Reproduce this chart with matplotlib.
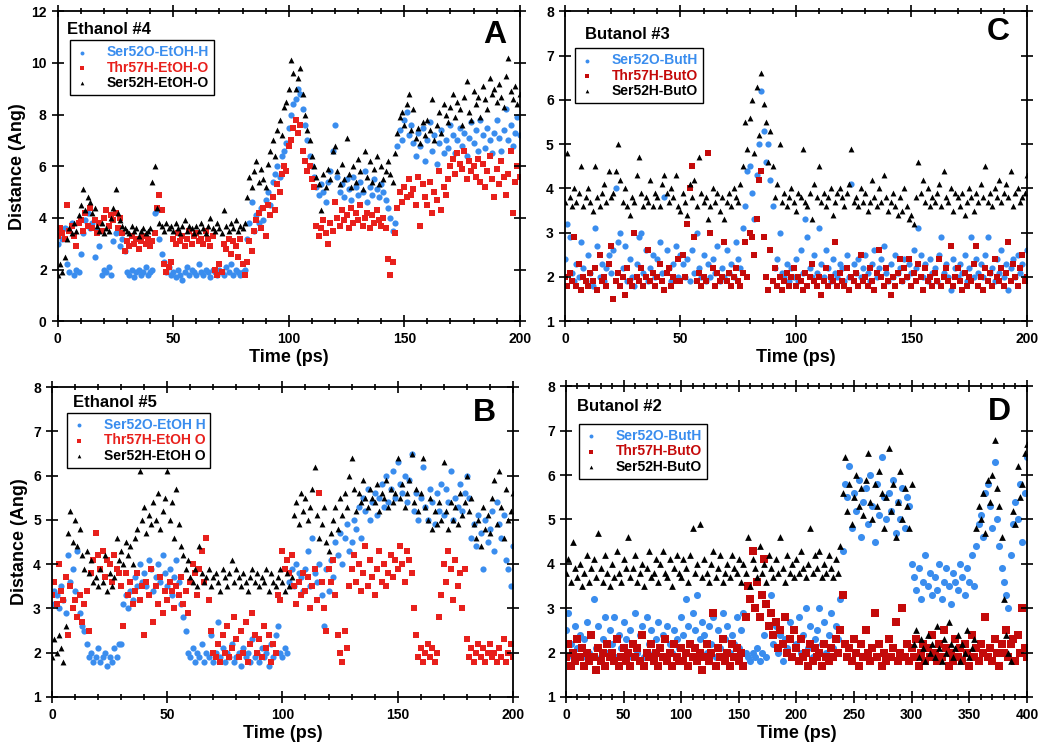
import matplotlib
matplotlib.use("Agg")
import matplotlib.pyplot as plt
import numpy as np

plt.rcParams['font.family'] = ['Liberation Sans', 'DejaVu Sans']
plt.rcParams['font.weight'] = 'bold'

# Panel A: Ethanol #4, one value per ps (0..200)
a_blue = [3.0, 3.4, 3.2, 3.6, 2.2, 1.9, 3.8, 1.8, 2.0, 1.9,
          2.6, 3.4, 3.9, 4.2, 3.6, 3.8, 2.5, 3.5, 2.9, 1.8,
          2.0, 1.9, 2.1, 1.8, 3.1, 3.4, 3.5, 2.9, 3.2, 2.7,
          1.9, 1.8, 2.0, 1.7, 1.9, 2.0, 1.8, 1.9, 2.1, 1.8,
          1.9, 2.0, 4.2, 4.3, 3.2, 2.6, 2.3, 1.9, 2.1, 1.8,
          1.9, 1.7, 2.0, 1.8, 1.6, 1.9, 2.1, 1.8, 2.0, 1.9,
          1.8, 2.2, 1.9, 1.8, 2.0, 1.9, 1.7, 2.0, 1.9, 1.8,
          2.0, 1.9, 1.8, 2.1, 1.9, 2.2, 1.8, 2.0, 1.9, 1.8,
          1.9, 2.0, 3.2, 3.8, 4.6, 3.5, 4.1, 3.8, 4.4, 3.9,
          4.7, 5.0, 4.5, 5.4, 5.7, 6.0, 5.6, 6.4, 6.6, 6.9,
          7.5, 8.0, 8.4, 8.6, 9.0, 8.8, 8.2, 7.6, 7.0, 6.4,
          6.0, 5.6, 5.2, 4.9, 5.3, 5.0, 4.6, 5.4, 5.8, 6.6,
          7.6, 5.6, 5.0, 5.3, 4.8, 5.5, 5.1, 4.7, 5.6, 5.2,
          4.9, 5.4, 5.0, 5.8, 4.6, 5.2, 4.9, 5.5, 5.1, 4.8,
          5.3, 5.0, 4.7, 4.4, 4.0, 3.5, 3.8, 6.8, 7.4, 7.0,
          7.8, 8.1, 7.2, 7.6, 6.9, 6.4, 7.3, 6.8, 7.5, 6.2,
          7.0, 7.7, 6.6, 7.2, 6.1, 6.9, 7.4, 6.5, 7.0, 6.7,
          7.6, 7.2, 6.5, 7.0, 7.5, 6.8, 7.3, 6.4, 7.1, 7.7,
          6.9, 7.4, 6.6, 7.8, 7.2, 6.7, 7.5, 7.0, 6.5, 7.3,
          7.8, 7.1, 6.6, 7.4, 8.2, 7.0, 7.6, 6.8, 7.3, 7.9,
          7.2]
a_red = [3.3, 3.6, 3.4, 3.2, 4.5, 3.5, 3.7, 3.3, 2.9, 3.8,
         3.9, 3.5, 4.2, 3.7, 4.4, 3.6, 3.9, 3.4, 3.8, 3.5,
         4.0, 4.3, 3.7, 4.1, 3.9, 4.2, 3.6, 4.0, 3.4, 2.7,
         3.1, 2.9, 3.3, 3.0, 3.2, 2.8, 3.1, 3.3, 3.0, 3.2,
         2.9, 3.1, 3.4, 4.4, 4.9, 4.3, 2.2, 1.9, 2.1, 2.3,
         3.2, 3.0, 3.4, 3.1, 3.3, 2.9, 3.2, 3.5, 3.0, 3.3,
         3.4, 3.1, 3.2, 3.0, 3.5, 3.2, 2.9, 3.3, 2.0, 1.8,
         2.2, 1.9, 3.0, 2.8, 3.2, 2.6, 3.1, 2.9, 2.5, 3.2,
         2.2, 1.8, 2.3, 3.1, 2.7, 3.5, 3.9, 4.2, 3.6, 4.4,
         3.3, 4.5, 4.1, 4.8, 4.3, 5.3, 5.0, 5.7, 6.0, 5.8,
         6.8, 7.0, 7.5, 7.8, 7.3, 7.6, 6.6, 6.2, 5.8, 6.0,
         5.5, 5.2, 3.7, 3.3, 3.6, 3.9, 3.4, 3.0, 3.8, 3.5,
         4.6, 4.0, 3.7, 4.3, 3.9, 4.1, 3.6, 4.4, 3.8, 4.2,
         3.9, 4.5, 3.7, 4.0, 4.2, 3.6, 4.1, 3.8, 4.3, 3.9,
         3.7, 4.0, 3.6, 2.4, 1.8, 2.3, 3.4, 4.4, 5.0, 4.6,
         5.2, 4.8, 5.5, 4.9, 5.1, 4.5, 5.6, 3.7, 5.3, 4.8,
         4.5, 5.4, 4.2, 5.0, 4.7, 5.8, 4.3, 5.2, 4.9, 5.5,
         6.0, 6.3, 5.7, 6.5, 6.1, 5.9, 6.6, 5.5, 6.2, 5.8,
         6.0, 5.6, 6.3, 5.4, 6.1, 5.2, 5.8, 6.4, 5.5, 4.8,
         5.9, 5.3, 6.2, 5.6, 4.9, 5.7, 6.6, 4.2, 5.4, 6.0,
         5.6]
a_black = [1.8, 2.2, 1.9, 2.5, 3.2, 3.6, 3.4, 3.8, 3.5, 4.1,
           4.5, 5.1, 4.3, 4.8, 4.6, 4.2, 4.4, 3.7, 3.5, 3.8,
           3.4, 3.6, 3.5, 4.0, 4.4, 5.1, 4.2, 3.9, 3.7, 3.6,
           3.5, 3.4, 3.7, 3.5, 3.6, 3.3, 3.5, 3.6, 3.4, 3.5,
           3.6, 5.4, 6.0, 4.4, 3.8, 3.7, 3.5, 3.8, 3.6, 3.7,
           3.5, 3.8, 3.6, 3.4, 3.7, 3.9, 3.5, 3.7, 3.6, 3.4,
           3.7, 3.5, 3.8, 3.6, 3.4, 3.7, 4.0, 3.6, 3.5, 3.8,
           3.6, 3.4, 4.3, 3.7, 3.5, 3.8, 3.6, 3.9, 3.5, 3.7,
           3.6, 3.8, 4.8, 5.6, 5.2, 5.8, 6.2, 5.4, 5.9, 5.5,
           5.2, 6.1, 6.6, 7.0, 6.4, 7.4, 7.8, 7.2, 8.3, 8.5,
           9.0, 10.1, 9.6, 9.0, 9.4, 9.8, 8.8, 8.0, 7.4, 7.0,
           6.4, 6.0, 5.6, 5.3, 4.3, 5.7, 5.2, 5.9, 5.5, 6.6,
           6.8, 5.8, 5.3, 6.1, 5.5, 7.1, 5.7, 5.2, 6.0, 5.4,
           6.3, 5.8, 5.1, 6.6, 5.6, 6.2, 5.4, 5.9, 6.4, 5.3,
           6.0, 5.5, 5.8, 6.2, 5.7, 5.4, 6.5, 7.3, 7.9, 8.1,
           7.6, 8.4, 8.8, 7.4, 8.2, 7.1, 7.5, 6.9, 7.7, 7.2,
           7.8, 7.4, 8.6, 7.0, 7.6, 8.1, 7.3, 8.4, 8.0, 7.7,
           8.3, 8.8, 7.9, 8.5, 8.2, 7.6, 8.7, 9.3, 8.1, 7.8,
           8.9, 8.4, 8.7, 7.9, 9.1, 8.6, 8.2, 9.4, 8.8, 9.0,
           8.5, 9.2, 8.7, 8.3, 9.5, 10.2, 8.9, 8.6, 9.1, 8.4,
           8.8]

# Panel C: Butanol #3, one value per ps (0..200)
c_blue = [2.4, 3.2, 2.9, 2.1, 1.9, 2.3, 2.0, 2.8, 2.2, 1.9,
          2.5, 2.1, 1.8, 3.1, 2.7, 2.0, 2.3, 1.9, 2.2, 2.5,
          2.1, 2.6, 4.0, 2.8, 3.0, 2.2, 2.7, 1.9, 2.4, 2.0,
          1.8, 2.3, 2.9, 3.0, 2.1, 2.6, 1.9, 2.2, 2.5, 2.0,
          2.4, 2.8, 2.1, 3.8, 2.6, 2.2, 1.9, 2.3, 2.7, 2.0,
          2.5, 2.3, 2.0, 2.4, 1.9, 2.6, 2.1, 3.0, 2.2, 2.0,
          2.5, 1.9, 2.3, 2.0, 2.4, 2.1, 2.7, 1.9, 2.2, 2.0,
          2.6, 2.1, 2.3, 2.0, 2.8, 2.4, 2.2, 3.1, 3.6, 4.4,
          4.5, 3.9, 3.3, 4.3, 5.0, 6.2, 5.3, 4.6, 5.0, 4.2,
          3.6, 2.2, 2.4, 3.0, 2.1, 2.0, 2.3, 1.9, 2.2, 2.0,
          2.4, 1.9, 2.6, 2.1, 3.3, 2.9, 2.2, 2.0, 2.5, 2.1,
          3.1, 2.3, 2.0, 2.6, 2.2, 1.9, 2.4, 2.1, 2.0, 2.3,
          2.2, 1.9, 2.5, 2.0, 4.1, 2.3, 2.1, 2.4, 2.0, 2.2,
          2.5, 2.1, 1.9, 2.3, 2.6, 2.0, 2.2, 2.4, 2.7, 2.1,
          1.9, 2.3, 2.0, 2.5, 2.1, 2.2, 1.9, 2.4, 2.0, 2.3,
          2.1, 2.6, 2.2, 3.1, 2.5, 2.0, 2.3, 1.9, 2.4, 2.1,
          2.2, 1.9, 2.5, 2.9, 2.1, 2.3, 2.0, 1.7, 2.4, 2.2,
          2.0, 2.3, 2.1, 2.5, 1.9, 2.2, 2.9, 2.0, 2.4, 2.1,
          2.3, 2.0, 2.5, 2.9, 2.1, 2.2, 1.9, 2.4, 2.1, 2.6,
          2.0, 2.3, 1.7, 2.2, 2.4, 2.0, 2.5, 2.1, 2.3, 2.0,
          2.6]
c_red = [2.0, 1.8, 2.1, 1.9, 2.9, 1.8, 2.3, 1.7, 2.0, 1.9,
         1.8, 2.1, 1.9, 2.2, 1.7, 2.5, 1.9, 2.0, 1.8, 2.3,
         2.7, 1.5, 1.9, 2.1, 1.8, 2.0, 1.6, 2.2, 1.9, 1.8,
         3.0, 2.0, 1.9, 2.2, 1.8, 2.0, 2.6, 1.9, 2.1, 1.8,
         2.0, 2.3, 1.9, 1.7, 2.1, 2.2, 1.8, 2.0, 1.9, 2.4,
         1.9, 2.5, 2.0, 3.2, 4.0, 4.5, 2.9, 1.9, 2.1, 1.8,
         2.0, 1.9, 4.8, 3.0, 2.2, 1.8, 2.1, 1.9, 2.0, 2.8,
         1.9, 2.1, 1.8, 2.0, 2.2, 1.9, 1.8, 2.1, 2.8, 2.0,
         3.0, 2.9, 2.5, 3.3, 4.2, 4.4, 2.9, 2.0, 1.7, 2.6,
         1.9, 2.2, 1.8, 2.0, 1.7, 1.9, 2.1, 1.8, 2.0, 2.2,
         1.8, 2.0, 1.9, 1.7, 2.1, 1.8, 2.0, 2.3, 1.9, 1.8,
         2.0, 1.6, 1.9, 2.2, 1.8, 2.0, 1.9, 2.8, 1.8, 2.1,
         1.9, 1.8, 2.2, 1.7, 2.0, 1.9, 2.1, 1.8, 2.5, 1.9,
         2.0, 1.8, 2.2, 1.9, 1.7, 2.1, 2.6, 2.0, 1.8, 2.2,
         1.9, 1.6, 2.0, 1.8, 2.1, 2.4, 1.9, 2.2, 2.0, 2.4,
         1.8, 2.1, 1.9, 2.3, 2.0, 1.7, 2.2, 1.9, 2.0, 1.8,
         2.1, 1.9, 2.4, 1.8, 2.0, 2.2, 1.9, 2.7, 1.8, 2.0,
         2.2, 1.9, 1.7, 2.1, 1.8, 2.0, 1.9, 2.3, 2.7, 1.8,
         2.0, 1.7, 2.2, 1.9, 2.1, 1.8, 2.4, 2.0, 1.9, 2.2,
         1.8, 2.1, 2.8, 1.9, 2.3, 2.0, 1.8, 2.2, 2.5, 1.9,
         2.0]
c_black = [3.7, 4.8, 3.8, 3.6, 4.0, 3.7, 3.9, 4.5, 3.6, 3.8,
           4.0, 3.7, 3.5, 4.5, 3.8, 3.6, 3.9, 4.1, 3.7, 4.4,
           3.8, 3.9, 4.4, 5.0, 4.2, 3.7, 4.0, 3.6, 3.4, 3.8,
           3.7, 4.3, 4.7, 3.9, 3.6, 3.8, 3.7, 4.2, 3.6, 3.9,
           3.8, 3.6, 4.1, 4.3, 3.9, 3.7, 4.0, 3.8, 4.3, 3.6,
           3.5, 3.9, 3.7, 3.4, 4.1, 3.8, 4.2, 3.6, 4.7, 3.9,
           3.7, 3.8, 3.3, 3.6, 4.0, 3.7, 3.9, 3.5, 3.8, 3.3,
           3.7, 3.9, 3.6, 4.0, 3.8, 3.7, 4.1, 4.5, 5.5, 4.9,
           5.6, 6.0, 4.8, 6.3, 5.2, 6.6, 5.9, 5.5, 4.6, 5.3,
           4.5, 3.8, 4.1, 5.0, 3.7, 3.9, 3.6, 3.8, 4.0, 3.7,
           3.5, 3.9, 3.8, 4.9, 3.7, 3.6, 3.9, 3.3, 4.1, 3.8,
           4.5, 3.7, 3.9, 3.6, 3.8, 4.0, 3.4, 3.7, 3.9, 4.0,
           3.8, 3.6, 3.9, 4.1, 4.9, 3.7, 3.8, 3.6, 4.0, 3.7,
           3.9, 3.5, 3.7, 4.2, 3.8, 3.6, 4.0, 3.7, 4.3, 3.8,
           3.5, 3.7, 3.9, 3.6, 3.4, 3.8, 3.5, 4.0, 3.6, 3.3,
           3.4, 3.2, 3.8, 4.6, 3.9, 4.2, 3.7, 4.0, 3.6, 3.8,
           3.7, 3.9, 4.1, 3.6, 4.4, 3.8, 3.7, 4.0, 3.5, 3.9,
           3.8, 3.6, 3.9, 3.4, 3.7, 4.0, 3.8, 3.5, 3.9, 3.7,
           4.1, 3.8, 4.5, 3.7, 3.9, 3.6, 4.0, 3.8, 4.2, 3.7,
           3.9, 4.1, 3.8, 4.4, 3.6, 3.9, 4.0, 3.7, 3.8, 3.9,
           4.3]

# Panel B: Ethanol #5, one value per ps (0..200)
b_blue = [3.1, 3.4, 3.3, 3.0, 3.5, 3.2, 2.9, 4.2, 3.6, 3.9,
          3.4, 4.3, 2.9, 2.6, 2.5, 2.2, 1.9, 2.0, 1.8, 1.9,
          2.1, 1.8, 1.9, 2.0, 1.7, 1.9, 1.8, 2.1, 1.9, 2.2,
          2.2, 3.1, 3.3, 3.0, 3.4, 3.2, 3.7, 3.5, 4.0, 3.6,
          3.8, 3.5, 4.1, 3.9, 3.4, 3.7, 4.0, 3.6, 4.2, 3.8,
          3.5, 3.9, 3.3, 3.7, 4.1, 3.6, 3.1, 2.8, 2.5, 2.0,
          1.9, 2.1, 1.8, 2.0, 1.9, 2.2, 1.8, 2.0, 1.9, 2.4,
          1.8, 2.0, 2.7, 1.9, 2.1, 1.8, 2.0, 1.9, 2.2, 1.8,
          1.9, 2.0, 1.7, 2.1, 1.9, 2.0, 1.8, 2.3, 1.9, 2.0,
          1.8, 2.1, 1.9, 2.0, 1.7, 2.2, 1.9, 2.4, 2.6, 2.0,
          1.9, 2.1, 2.0, 3.6, 3.9, 3.5, 4.0, 3.8, 3.7, 3.4,
          3.9, 4.3, 3.5, 4.6, 3.8, 3.6, 4.0, 3.3, 2.6, 3.9,
          3.4, 4.1, 3.7, 4.5, 4.2, 4.7, 4.0, 4.6, 4.9, 4.3,
          4.5, 5.0, 4.8, 5.3, 4.6, 5.5, 5.2, 5.7, 5.0, 5.4,
          5.6, 5.1, 5.5, 5.8, 5.3, 6.0, 5.4, 5.7, 6.1, 5.5,
          6.3, 5.8, 5.6, 6.0, 5.4, 5.9, 6.5, 5.2, 5.6, 5.0,
          5.5, 6.2, 5.3, 5.0, 5.7, 5.4, 4.9, 5.6, 5.2, 5.8,
          5.1, 5.7, 5.4, 6.1, 5.0, 5.5, 5.3, 5.8, 5.2, 5.6,
          6.0, 5.5, 4.6, 4.9, 4.4, 5.1, 4.7, 3.9, 5.0, 4.5,
          4.8, 5.2, 4.3, 5.4, 4.9, 4.6, 5.1, 4.1, 3.9, 3.5,
          4.4]
b_red = [3.3, 3.6, 3.1, 4.0, 3.4, 3.2, 3.7, 2.4, 3.5, 3.0,
         3.2, 2.8, 3.3, 2.7, 3.1, 3.4, 2.5, 3.8, 4.1, 4.7,
         4.2, 3.9, 4.3, 3.7, 4.1, 4.0, 3.6, 4.2, 3.9, 3.8,
         3.5, 2.6, 3.8, 3.3, 3.6, 3.1, 3.4, 3.8, 3.2, 3.5,
         2.4, 3.6, 3.3, 3.9, 2.7, 3.5, 3.1, 3.7, 2.9, 3.4,
         3.2, 3.6, 3.4, 3.0, 3.5, 3.3, 3.7, 3.1, 3.4, 2.9,
         3.6, 4.0, 3.8, 3.3, 3.9, 4.3, 3.6, 4.6, 3.2, 2.5,
         2.0, 1.9, 2.2, 1.8, 2.4, 2.0, 2.6, 1.9, 2.1, 2.8,
         2.3, 1.9, 2.5, 2.0, 2.7, 1.8, 2.2, 2.9, 2.4, 2.0,
         2.3, 1.9, 2.6, 2.1, 2.4, 1.8, 2.2, 2.0, 3.3, 3.2,
         4.3, 3.9, 4.1, 3.8, 4.2, 3.5, 3.1, 3.6, 3.3, 3.8,
         3.4, 3.7, 3.0, 3.5, 3.9, 3.2, 5.6, 3.6, 3.0, 2.5,
         3.9, 3.6, 4.1, 3.3, 2.4, 2.0, 1.8, 2.5, 2.1, 3.5,
         3.9, 4.2, 3.6, 4.0, 3.4, 3.8, 4.4, 3.5, 4.1, 3.7,
         3.3, 3.9, 4.3, 3.6, 4.0, 3.5, 3.8, 4.2, 3.7, 4.1,
         3.9, 4.4, 4.0, 3.6, 4.3, 4.1, 3.8, 3.0, 2.4, 1.9,
         2.1, 1.8, 2.0, 2.2, 1.9, 2.1, 1.8, 2.0, 2.8, 3.3,
         4.0, 3.6, 4.3, 3.9, 3.2, 4.1, 3.5, 3.8, 3.0, 3.9,
         2.3, 1.9, 2.1, 1.8, 2.0, 2.2, 1.9, 2.1, 1.8, 2.0,
         2.2, 1.9, 2.0, 1.8, 2.1, 1.9, 2.3, 1.8, 2.0, 2.2,
         1.9]
b_black = [1.9, 2.3, 2.0, 2.4, 2.1, 1.8, 2.6, 4.7, 5.2, 4.5,
           5.0, 4.4, 4.8, 4.2, 3.9, 4.3, 3.8, 4.1, 3.6, 3.7,
           3.5, 3.9, 3.6, 4.2, 3.4, 3.8, 3.5, 3.7, 4.6, 4.1,
           4.3, 4.0, 4.5, 4.2, 4.4, 4.0, 4.6, 4.8, 6.1, 5.0,
           5.3, 4.7, 5.1, 4.9, 5.4, 5.0, 5.6, 4.8, 5.2, 5.5,
           6.1, 5.0, 5.4, 4.6, 5.7, 4.9, 4.4, 4.2, 3.9, 4.1,
           3.7, 3.6, 3.9, 3.5, 4.4, 3.8, 3.6, 3.7, 3.9, 3.5,
           3.7, 3.8, 3.6, 3.4, 3.9, 3.7, 3.5, 3.8, 4.1, 3.6,
           3.9, 3.7, 3.5, 3.8, 3.6, 3.4, 3.7, 3.9, 3.6, 3.8,
           3.5, 3.7, 3.6, 3.9, 3.4, 3.8, 3.6, 3.5, 3.7, 3.9,
           3.6, 3.4, 3.8, 3.5, 3.7, 5.1, 5.4, 4.9, 5.6, 5.2,
           5.5, 5.0, 5.3, 5.7, 6.2, 5.1, 4.6, 4.9, 5.3, 4.5,
           4.3, 4.7, 5.0, 5.3, 4.8, 5.5, 5.1, 5.6, 5.3, 6.0,
           6.4, 5.7, 5.2, 5.6, 5.4, 5.9, 5.5, 5.3, 5.7, 5.5,
           5.4, 5.8, 5.2, 5.6, 5.5, 5.9, 5.3, 5.7, 5.4, 5.6,
           6.4, 5.5, 5.8, 5.3, 5.6, 5.9, 6.5, 5.4, 5.7, 5.2,
           5.6, 6.4, 5.3, 5.0, 5.5, 4.8, 5.2, 4.9, 5.4, 5.0,
           6.3, 5.2, 4.8, 5.4, 5.0, 5.3, 4.9, 5.6, 5.1, 5.4,
           6.0, 5.2, 5.5, 4.9, 4.6, 5.0, 4.4, 5.3, 4.8, 5.1,
           4.7, 5.5, 5.9, 4.9, 6.1, 5.3, 4.6, 5.7, 5.0, 5.2,
           5.6]

# Panel D: Butanol #2, one value every 2 ps (0..400)
d_blue = [2.5, 2.9, 2.2, 1.9, 2.6, 2.1, 2.4, 1.9, 2.3, 2.7,
          2.0, 2.4, 3.2, 2.1, 2.6, 1.9, 2.3, 2.8, 2.0, 2.5,
          2.2, 2.8, 1.9, 2.4, 2.1, 2.7, 2.3, 1.9, 2.5, 2.2,
          2.9, 2.0, 2.4, 2.6, 1.9, 2.8, 2.2, 2.5, 2.0, 2.3,
          2.7, 2.1, 2.4, 1.9, 2.6, 2.2, 2.0, 2.5, 2.3, 2.1,
          2.8, 2.4, 3.2, 2.6, 2.2, 2.9, 2.5, 3.3, 2.3, 2.7,
          2.4, 2.0, 2.6, 2.2, 2.8, 1.9, 2.5, 2.1, 2.9, 2.3,
          2.6, 2.0, 2.4, 2.2, 2.8, 2.1, 2.5, 2.9, 2.0, 1.9,
          1.8, 2.0, 1.9, 2.1, 1.8, 2.0, 2.4, 1.9, 2.6, 3.3,
          2.2, 2.6, 2.0, 2.4, 1.8, 2.3, 2.1, 2.7, 1.9, 2.5,
          2.2, 2.8, 2.0, 2.4, 3.0, 2.1, 2.6, 1.9, 2.3, 2.5,
          3.0, 2.2, 2.7, 2.0, 2.4, 2.9, 2.1, 2.6, 2.3, 3.2,
          4.3, 5.8, 5.5, 6.2, 4.8, 5.6, 5.2, 5.9, 4.6, 5.4,
          5.7, 4.9, 6.0, 5.3, 4.5, 5.8, 5.1, 6.4, 5.5, 5.0,
          5.6, 5.2, 5.9, 4.7, 5.4, 5.0, 5.7, 4.8, 5.5, 5.3,
          4.0, 3.7, 3.4, 3.9, 3.2, 3.6, 4.2, 3.5, 3.8, 3.3,
          3.7, 3.4, 4.0, 3.2, 3.6, 3.9, 3.5, 3.1, 3.8, 3.6,
          3.4, 4.0, 3.7, 3.3, 3.9, 3.6, 4.2, 3.5, 4.4, 4.9,
          5.1, 4.6, 5.6, 5.8, 5.3, 4.8, 6.3, 5.0, 4.4, 3.9,
          3.6, 3.3, 3.0, 4.2, 4.9, 5.4, 5.0, 5.8, 4.5, 5.6,
          6.4]
d_red = [1.9, 2.2, 1.7, 2.0, 1.8, 2.3, 1.9, 2.1, 1.7, 2.0,
         1.8, 2.4, 1.9, 1.6, 2.1, 1.8, 2.0, 1.7, 2.2, 1.9,
         2.0, 1.8, 2.3, 1.7, 1.9, 2.1, 1.8, 2.0, 1.7, 2.2,
         1.9, 2.1, 1.8, 2.4, 1.7, 2.0, 1.9, 2.2, 1.8, 2.0,
         1.7, 2.1, 1.9, 2.3, 1.8, 2.0, 1.7, 2.2, 1.9, 1.8,
         2.1, 1.8, 2.0, 1.7, 2.2, 1.9, 2.1, 1.8, 2.0, 1.6,
         1.9, 2.2, 1.8, 2.0, 2.9, 1.7, 2.1, 1.9, 2.3, 1.8,
         2.0, 1.7, 2.2, 1.9, 2.1, 1.8, 2.0, 1.7, 2.8, 3.5,
         3.2, 4.3, 3.0, 3.6, 2.8, 3.3, 4.1, 3.1, 2.6, 2.9,
         2.4, 2.7, 2.1, 2.5, 2.2, 2.8, 2.0, 2.3, 1.9, 2.5,
         2.1, 1.8, 2.3, 1.9, 2.0, 1.7, 2.2, 1.8, 2.1, 1.9,
         2.0, 1.7, 2.2, 1.9, 1.8, 2.1, 1.9, 2.3, 2.0, 2.5,
         3.3, 2.2, 1.9, 2.1, 1.8, 2.3, 2.0, 1.7, 2.2, 1.9,
         2.5, 2.0, 1.8, 2.1, 2.9, 1.9, 2.2, 1.7, 2.0, 1.8,
         2.3, 1.9, 2.1, 2.7, 1.8, 2.0, 3.0, 1.9, 2.2, 1.8,
         2.1, 1.9, 2.3, 1.7, 2.0, 2.2, 1.8, 2.1, 1.9, 2.4,
         2.0, 1.8, 2.2, 1.9, 2.5, 2.1, 1.7, 2.0, 1.8, 2.3,
         1.9, 2.1, 1.8, 2.2, 2.0, 1.7, 2.4, 1.9, 2.1, 1.8,
         2.2, 2.0, 2.8, 1.9, 2.1, 1.8, 2.3, 2.0, 1.7, 2.2,
         2.0, 2.5, 1.9, 2.2, 2.3, 1.8, 2.4, 2.0, 3.0, 2.1,
         1.9]
d_black = [3.8, 4.1, 3.6, 4.5, 3.9, 3.7, 4.0, 3.5, 3.8, 4.2,
           3.6, 3.9, 4.1, 3.7, 4.7, 3.9, 3.6, 4.2, 3.8, 3.5,
           4.0, 3.7, 4.3, 3.8, 3.6, 4.1, 3.9, 4.6, 3.7, 3.9,
           4.2, 3.6, 3.8, 4.0, 3.5, 3.9, 4.3, 3.7, 3.8, 4.1,
           3.6, 4.0, 4.3, 3.8, 3.7, 4.1, 3.5, 3.9, 4.2, 3.8,
           3.7, 4.1, 3.9, 3.6, 4.2, 4.8, 3.8, 4.0, 4.9, 3.7,
           4.1, 3.8, 3.6, 4.0, 4.3, 3.7, 3.9, 4.2, 3.6, 3.8,
           4.0, 3.7, 4.2, 3.9, 3.8, 4.1, 3.6, 4.0, 3.8, 4.6,
           3.5, 4.1, 3.9, 3.7, 4.4, 3.8, 4.0, 3.6, 4.2, 3.9,
           3.7, 4.1, 3.8, 4.6, 3.9, 3.6, 4.2, 3.8, 4.0, 3.7,
           4.1, 3.8, 4.3, 3.9, 3.7, 4.0, 4.8, 3.8, 4.2, 3.9,
           4.3, 3.7, 4.0, 3.8, 4.2, 3.9, 3.7, 4.1, 3.8, 4.4,
           5.6, 6.4, 5.2, 5.8, 4.9, 5.5, 6.0, 5.3, 5.7, 5.1,
           5.9, 6.5, 5.4, 5.0, 5.8, 5.3, 6.1, 5.6, 4.8, 5.5,
           6.6, 5.2, 5.8, 4.6, 5.4, 6.1, 5.0, 5.7, 5.3, 4.8,
           5.8, 2.2, 2.5, 1.9, 2.3, 2.1, 1.8, 2.4, 2.0, 2.2,
           1.9, 2.6, 2.1, 1.8, 2.3, 2.0, 2.7, 2.2, 1.9, 2.1,
           2.4, 1.8, 2.2, 2.0, 2.5, 1.9, 2.1, 2.3, 4.8, 5.3,
           5.0, 5.6, 4.7, 5.9, 5.4, 6.0, 6.8, 5.7, 5.3, 4.6,
           3.2, 2.4, 2.0, 1.8, 5.2, 4.9, 6.2, 5.5, 5.8, 6.5,
           6.7]

t_200 = np.arange(0, 201, 1)
t_400 = np.arange(0, 401, 2)

blue = '#3A8DEE'
red_bright = '#E8201C'
red_dark = '#C40A0A'


def draw_panel(ax, t, sblue, sred, sblack, labels, red_col, title, letter,
               ylim, yticks, xmax, ylabel, leg_xy, title_xy, letter_xy, msize):
    ax.scatter(t, sblue, s=msize, marker='o', color=blue, linewidths=0, label=labels[0])
    ax.scatter(t, sred, s=msize, marker='s', color=red_col, linewidths=0, label=labels[1])
    ax.scatter(t, sblack, s=msize * 0.9, marker='^', color='black', linewidths=0, label=labels[2])
    ax.set_xlim(0, xmax)
    ax.set_ylim(*ylim)
    ax.set_yticks(yticks)
    ax.set_xticks(np.arange(0, xmax + 1, 50))
    ax.set_xticks(np.arange(0, xmax + 1, 10), minor=True)
    ax.tick_params(which='both', direction='inout', top=True, right=True,
                   labelsize=10, width=1.2)
    ax.tick_params(which='major', length=9)
    ax.tick_params(which='minor', length=5)
    for lab in ax.get_xticklabels() + ax.get_yticklabels():
        lab.set_fontweight('bold')
    for sp in ax.spines.values():
        sp.set_linewidth(1.3)
    ax.set_xlabel('Time (ps)', fontsize=13, fontweight='bold', labelpad=2)
    if ylabel:
        ax.set_ylabel('Distance (Ang)', fontsize=13, fontweight='bold', labelpad=4)
    ax.text(title_xy[0], title_xy[1], title, transform=ax.transAxes,
            fontsize=12, fontweight='bold', va='center', ha='left')
    ax.text(letter_xy[0], letter_xy[1], letter, transform=ax.transAxes,
            fontsize=23, fontweight='bold', va='center', ha='center')
    # small markers in the legend, like the original
    leg = ax.legend(loc='upper left', bbox_to_anchor=leg_xy, fancybox=False,
                    framealpha=1, edgecolor='black', fontsize=10,
                    handlelength=1.0, handletextpad=1.3, borderpad=0.35,
                    labelspacing=0.1, markerscale=(8.0 / msize) ** 0.5,
                    borderaxespad=0)
    leg.get_frame().set_linewidth(1.0)
    for txt, col in zip(leg.get_texts(), [blue, red_col, 'black']):
        txt.set_color(col)
        txt.set_fontweight('bold')


fig = plt.figure(figsize=(10.5, 7.54), dpi=100)
axA = fig.add_axes([0.055, 0.574, 0.44, 0.411])
axC = fig.add_axes([0.538, 0.574, 0.44, 0.411])
axB = fig.add_axes([0.0495, 0.0756, 0.439, 0.411])
axD = fig.add_axes([0.539, 0.0756, 0.439, 0.412])

draw_panel(axA, t_200, a_blue, a_red, a_black,
           ['Ser52O-EtOH-H', 'Thr57H-EtOH-O', 'Ser52H-EtOH-O'], red_bright,
           'Ethanol #4', 'A', (0, 12), np.arange(0, 13, 2), 200, True,
           (0.026, 0.906), (0.02, 0.94), (0.946, 0.923), 20)
draw_panel(axC, t_200, c_blue, c_red, c_black,
           ['Ser52O-ButH', 'Thr57H-ButO', 'Ser52H-ButO'], red_dark,
           'Butanol #3', 'C', (1, 8), np.arange(1, 9, 1), 200, False,
           (0.022, 0.88), (0.043, 0.926), (0.937, 0.932), 20)
draw_panel(axB, t_200, b_blue, b_red, b_black,
           ['Ser52O-EtOH H', 'Thr57H-EtOH O', 'Ser52H-EtOH O'], red_bright,
           'Ethanol #5', 'B', (1, 8), np.arange(1, 9, 1), 200, True,
           (0.033, 0.916), (0.045, 0.95), (0.939, 0.916), 20)
draw_panel(axD, t_400, d_blue, d_red, d_black,
           ['Ser52O-ButH', 'Thr57H-ButO', 'Ser52H-ButO'], red_dark,
           'Butanol #2', 'D', (1, 8), np.arange(1, 9, 1), 400, False,
           (0.028, 0.878), (0.024, 0.936), (0.94, 0.916), 26)

fig.savefig('out.png', dpi=100)
